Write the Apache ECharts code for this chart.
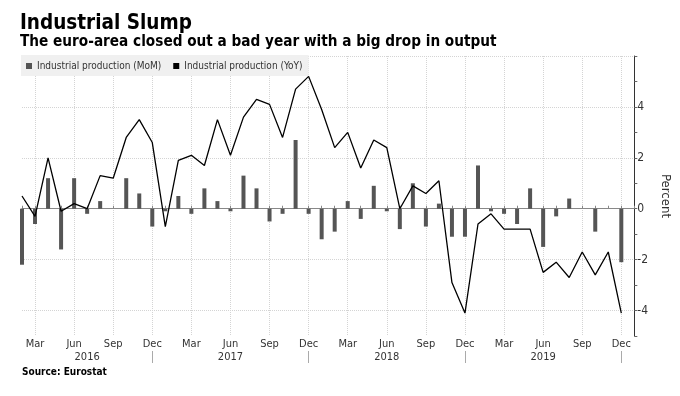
<!DOCTYPE html>
<html>
<head>
<meta charset="utf-8">
<script src="https://cdn.jsdelivr.net/npm/echarts@6/dist/echarts.min.js"></script>
<style>
    html, body { margin: 0; padding: 0; background: #fff; }
    #chart { width: 680px; height: 396px; }
</style>
</head>
<body>
<div id="chart"></div>
<script>
    // months Feb 2016 .. Dec 2019, plus one empty month so the axis runs past Dec
    var months = [
        'Feb 2016', 'Mar 2016', 'Apr 2016', 'May 2016', 'Jun 2016', 'Jul 2016', 'Aug 2016', 'Sep 2016', 'Oct 2016', 'Nov 2016', 'Dec 2016',
        'Jan 2017', 'Feb 2017', 'Mar 2017', 'Apr 2017', 'May 2017', 'Jun 2017', 'Jul 2017', 'Aug 2017', 'Sep 2017', 'Oct 2017', 'Nov 2017', 'Dec 2017',
        'Jan 2018', 'Feb 2018', 'Mar 2018', 'Apr 2018', 'May 2018', 'Jun 2018', 'Jul 2018', 'Aug 2018', 'Sep 2018', 'Oct 2018', 'Nov 2018', 'Dec 2018',
        'Jan 2019', 'Feb 2019', 'Mar 2019', 'Apr 2019', 'May 2019', 'Jun 2019', 'Jul 2019', 'Aug 2019', 'Sep 2019', 'Oct 2019', 'Nov 2019', 'Dec 2019',
        'Jan 2020'
    ];

    var mom = [
        -2.2, -0.6, 1.2, -1.6, 1.2, -0.2, 0.3, 0.0, 1.2, 0.6, -0.7,
        -0.1, 0.5, -0.2, 0.8, 0.3, -0.1, 1.3, 0.8, -0.5, -0.2, 2.7, -0.2,
        -1.2, -0.9, 0.3, -0.4, 0.9, -0.1, -0.8, 1.0, -0.7, 0.2, -1.1, -1.1,
        1.7, -0.1, -0.2, -0.6, 0.8, -1.5, -0.3, 0.4, 0.0, -0.9, 0.0, -2.1,
        null
    ];

    var yoy = [
        0.5, -0.3, 2.0, -0.1, 0.2, 0.0, 1.3, 1.2, 2.8, 3.5, 2.6,
        -0.7, 1.9, 2.1, 1.7, 3.5, 2.1, 3.6, 4.3, 4.1, 2.8, 4.7, 5.2,
        3.9, 2.4, 3.0, 1.6, 2.7, 2.4, 0.0, 0.9, 0.6, 1.1, -2.9, -4.1,
        -0.6, -0.2, -0.8, -0.8, -0.8, -2.5, -2.1, -2.7, -1.7, -2.6, -1.7, -4.1,
        null
    ];

    var monthTickLabels = ['Mar', 'Jun', 'Sep', 'Dec'];
    var yearLabelMonths = ['Jul 2016', 'Jun 2017', 'Jun 2018', 'Jun 2019'];
    var yTickLabels = [-4, -2, 0, 2, 4];

    var font = "'DejaVu Sans Condensed', 'DejaVu Sans', sans-serif";
    var gridColor = '#d4d4d4';

    function monthOf(v) { return v.slice(0, 3); }

    var chart = echarts.init(document.getElementById('chart'));
    chart.setOption({
        animation: false,
        textStyle: { fontFamily: font },
        title: [
            {
                text: 'Industrial Slump',
                subtext: 'The euro-area closed out a bad year with a big drop in output',
                left: 20,
                top: 13,
                itemGap: 1,
                padding: 0,
                textStyle: { fontFamily: font, fontSize: 20.5, fontWeight: 'bold', color: '#000' },
                subtextStyle: { fontFamily: font, fontSize: 15.2, fontWeight: 'bold', color: '#000' }
            },
            {
                text: 'Source: Eurostat',
                left: 22,
                top: 367,
                padding: 0,
                textStyle: { fontFamily: font, fontSize: 10, fontWeight: 'bold', color: '#000' }
            }
        ],
        legend: {
            left: 21,
            top: 55,
            padding: [6, 6, 5, 5],
            itemGap: 12,
            itemWidth: 6,
            itemHeight: 6,
            backgroundColor: '#f0f0f0',
            textStyle: { fontFamily: font, fontSize: 10, color: '#333' },
            data: [
                { name: 'Industrial production (MoM)', icon: 'rect' },
                { name: 'Industrial production (YoY)', icon: 'rect' }
            ]
        },
        grid: { left: 22, right: 44, top: 56, bottom: 60 },
        xAxis: [
            {
                type: 'category',
                data: months,
                boundaryGap: false,
                axisLine: { lineStyle: { color: '#888' } },
                axisTick: { interval: 0, inside: true, length: 3, lineStyle: { color: '#888' } },
                axisLabel: {
                    interval: 0,
                    margin: 2,
                    fontSize: 11,
                    lineHeight: 13,
                    color: '#333',
                    formatter: function (v) {
                        var m = monthTickLabels.indexOf(monthOf(v)) >= 0 ? monthOf(v) : '';
                        var y = yearLabelMonths.indexOf(v) >= 0 ? v.slice(4) : '';
                        if (!m && !y) return '';
                        return m + '\n' + y;
                    }
                },
                splitLine: {
                    show: true,
                    interval: function (i, v) { return monthTickLabels.indexOf(monthOf(v)) >= 0; },
                    lineStyle: { color: gridColor, type: 'dotted' }
                }
            },
            {
                type: 'category',
                data: months,
                boundaryGap: false,
                position: 'bottom',
                offset: 15,
                axisLine: { show: false },
                axisTick: {
                    interval: function (i, v) { return monthOf(v) === 'Dec'; },
                    length: 12,
                    lineStyle: { color: '#aaa' }
                },
                axisLabel: { show: false },
                splitLine: { show: false }
            }
        ],
        yAxis: {
            type: 'value',
            position: 'right',
            min: -5,
            max: 6,
            interval: 1,
            name: 'Percent',
            nameLocation: 'middle',
            nameRotate: -90,
            nameGap: 24,
            nameTextStyle: { fontFamily: font, fontSize: 13, color: '#333' },
            axisLine: { show: true, lineStyle: { color: '#333' } },
            axisTick: { show: true, length: 3, lineStyle: { color: '#666' } },
            axisLabel: {
                margin: 3,
                fontSize: 12,
                color: '#333',
                formatter: function (v) { return yTickLabels.indexOf(v) >= 0 ? String(v) : ''; }
            },
            splitLine: {
                show: true,
                lineStyle: { color: ['rgba(0,0,0,0)', gridColor], type: 'dotted' }
            }
        },
        series: [
            {
                name: 'Industrial production (MoM)',
                type: 'bar',
                data: mom,
                barWidth: 4,
                itemStyle: { color: '#555' }
            },
            {
                name: 'Industrial production (YoY)',
                type: 'line',
                data: yoy,
                symbol: 'none',
                itemStyle: { color: '#000' },
                lineStyle: { color: '#000', width: 1.3 }
            }
        ]
    });
</script>
</body>
</html>
